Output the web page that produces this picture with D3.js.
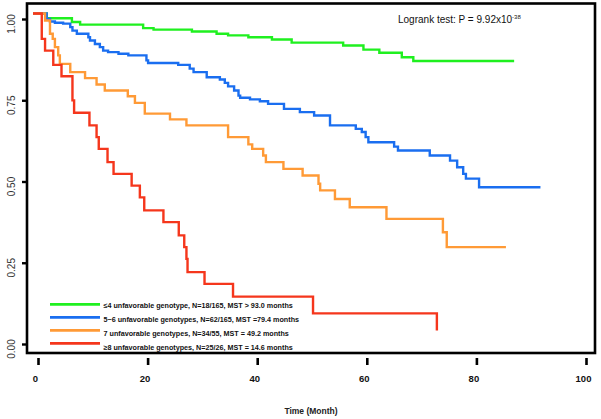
<!DOCTYPE html>
<html>
<head>
<meta charset="utf-8">
<script src="https://cdn.jsdelivr.net/npm/d3@7"></script>
<style>
  html, body { margin: 0; padding: 0; background: #fff; }
  svg { display: block; font-family: "Liberation Sans", Arial, sans-serif; }
</style>
</head>
<body>
<svg id="chart" width="601" height="419"></svg>
<script>
// ---- Data ----
const seriesNames = [
  "\u22644 unfavorable genotype, N=18/165, MST > 93.0 months",
  "5~6 unfavorable genotypes, N=62/165, MST =79.4 months",
  "7 unfavorable genotypes, N=34/55, MST = 49.2 months",
  "\u22658 unfavorable genotypes, N=25/26, MST = 14.6 months"
];
const seriesColors = ["#1ff01f", "#1a6ef0", "#ff9a36", "#f5361c"];

const greenT = [0, 2.5, 7.1, 8.6, 20.1, 22.0, 29.0, 33.5, 35.6, 39.3, 43.6, 47.2, 56.6, 60.3, 63.2, 67.3, 69.4, 87.8];
const greenS = [1, 0.985, 0.973, 0.965, 0.954, 0.949, 0.943, 0.936, 0.931, 0.925, 0.918, 0.908, 0.899, 0.886, 0.876, 0.862, 0.850, 0.850];

const blueT = [0, 2.5, 3.1, 4.0, 5.5, 6.8, 7.2, 8.0, 10.1, 10.4, 11.3, 12.2, 12.8, 13.7, 15.6, 17.4, 20.7, 21.0, 26.5, 28.6, 29.3, 31.7, 34.1, 35.0, 35.6, 36.7, 37.5, 37.8, 39.6, 41.4, 42.9, 45.8, 48.7, 51.3, 54.2, 58.9, 60.0, 60.7, 61.2, 65.9, 66.6, 72.4, 76.1, 77.4, 78.5, 79.0, 81.4, 92.6];
const blueS = [1, 0.983, 0.975, 0.971, 0.968, 0.957, 0.946, 0.936, 0.925, 0.915, 0.904, 0.894, 0.883, 0.878, 0.873, 0.868, 0.852, 0.844, 0.838, 0.826, 0.815, 0.799, 0.792, 0.781, 0.770, 0.757, 0.741, 0.734, 0.729, 0.723, 0.715, 0.699, 0.689, 0.678, 0.647, 0.636, 0.626, 0.610, 0.594, 0.580, 0.568, 0.552, 0.536, 0.515, 0.494, 0.479, 0.452, 0.452];

const orangeT = [0, 2.2, 3.1, 3.6, 4.0, 4.6, 4.9, 6.8, 9.5, 11.6, 13.1, 17.3, 18.6, 20.4, 25.0, 28.0, 35.6, 39.3, 40.0, 42.0, 42.5, 45.7, 49.2, 52.1, 52.4, 55.1, 57.8, 64.5, 74.8, 75.5, 86.3];
const orangeS = [1, 0.978, 0.936, 0.920, 0.894, 0.868, 0.841, 0.815, 0.796, 0.776, 0.757, 0.739, 0.718, 0.684, 0.666, 0.647, 0.610, 0.587, 0.573, 0.552, 0.531, 0.510, 0.489, 0.463, 0.442, 0.415, 0.389, 0.352, 0.310, 0.263, 0.263];

const redT = [0, 1.6, 2.2, 3.7, 5.2, 7.2, 7.5, 10.3, 11.6, 12.0, 13.6, 14.7, 18.0, 19.5, 20.3, 23.8, 26.6, 27.6, 28.0, 28.2, 31.3, 36.5, 51.1, 73.7];
const redS = [1, 0.920, 0.883, 0.838, 0.802, 0.726, 0.687, 0.647, 0.610, 0.573, 0.531, 0.494, 0.457, 0.420, 0.379, 0.342, 0.300, 0.263, 0.226, 0.184, 0.147, 0.107, 0.054, 0.0];

const xTicks = [0, 20, 40, 60, 80, 100];
const yTicks = [0, 0.25, 0.5, 0.75, 1];
const xTitle = "Time (Month)";
const logrankText = "Logrank test: P = 9.92x10";
const logrankExp = "-38";

// ---- Build ----
const svg = d3.select("#chart");

// axis scales
const xA = d3.scaleLinear().domain([0, 100]).range([38, 586]);
const yA = d3.scaleLinear().domain([0, 1]).range([344, 19]);
// curve scales (curves sit slightly offset from the axis in the original)
const xC = d3.scaleLinear().domain([0, 100]).range([33, 581]);
const yC = d3.scaleLinear().domain([0, 1]).range([330.5, 13.5]);

// frame
svg.append("rect")
  .attr("x", 27).attr("y", 3.5).attr("width", 568).attr("height", 349.5)
  .attr("fill", "none").attr("stroke", "#000").attr("stroke-width", 2.6);

// curves
const series = [
  {T: greenT, S: greenS},
  {T: blueT, S: blueS},
  {T: orangeT, S: orangeS},
  {T: redT, S: redS}
];
const line = d3.line()
  .x(d => xC(d[0]))
  .y(d => yC(d[1]))
  .curve(d3.curveStepAfter);

series.forEach((s, i) => {
  const pts = s.T.map((t, k) => [t, s.S[k]]);
  svg.append("path")
    .attr("d", line(pts))
    .attr("fill", "none")
    .attr("stroke", seriesColors[i])
    .attr("stroke-width", 2.4)
    .attr("stroke-linejoin", "miter");
});

// x axis
const gx = svg.append("g")
  .attr("transform", "translate(0,358)")
  .call(d3.axisBottom(xA).tickValues(xTicks).tickSize(7).tickFormat(d3.format("d")));
gx.select(".domain").remove();
gx.selectAll(".tick line").attr("stroke", "#000").attr("stroke-width", 2.6);
gx.selectAll(".tick text")
  .attr("y", 21).attr("dy", "0.35em").attr("dx", -3)
  .attr("font-size", 9.5).attr("font-weight", "bold").attr("fill", "#111")
  .attr("font-family", "Liberation Sans, Arial, sans-serif");

// y axis
const gy = svg.append("g")
  .attr("transform", "translate(27,0)")
  .call(d3.axisLeft(yA).tickValues(yTicks).tickSize(5).tickFormat(d3.format(".2f")));
gy.select(".domain").remove();
gy.selectAll(".tick line").attr("stroke", "#000").attr("stroke-width", 2.4);
gy.selectAll(".tick text").remove();
svg.append("g").selectAll("text")
  .data(yTicks)
  .join("text")
  .attr("transform", d => `translate(11,${yA(d) + 5}) rotate(-90)`)
  .attr("text-anchor", "middle")
  .attr("dominant-baseline", "central")
  .attr("font-size", 10)
  .attr("fill", "#333")
  .text(d => d3.format(".2f")(d));

// x title
svg.append("text")
  .attr("x", 311).attr("y", 411).attr("dy", "0.35em")
  .attr("text-anchor", "middle")
  .attr("font-size", 8.5).attr("font-weight", "bold").attr("fill", "#222")
  .text(xTitle);

// logrank annotation
const lr = svg.append("text")
  .attr("x", 398).attr("y", 23)
  .attr("font-size", 10).attr("fill", "#111");
lr.append("tspan").text(logrankText);
lr.append("tspan").attr("font-size", 6).attr("dy", -4).text(logrankExp);

// legend
const legLineY = d3.scaleLinear().domain([0, 3]).range([304.3, 343.3]);
const legTextY = d3.scaleLinear().domain([0, 3]).range([305, 347.5]);
const leg = svg.append("g");
seriesNames.forEach((name, i) => {
  leg.append("line")
    .attr("x1", 50).attr("x2", 100)
    .attr("y1", legLineY(i)).attr("y2", legLineY(i))
    .attr("stroke", seriesColors[i]).attr("stroke-width", 2.8);
  leg.append("text")
    .attr("x", 103.5).attr("y", legTextY(i)).attr("dy", "0.35em")
    .attr("font-size", 7.2).attr("font-weight", "bold").attr("fill", "#111")
    .text(name);
});
</script>
</body>
</html>
